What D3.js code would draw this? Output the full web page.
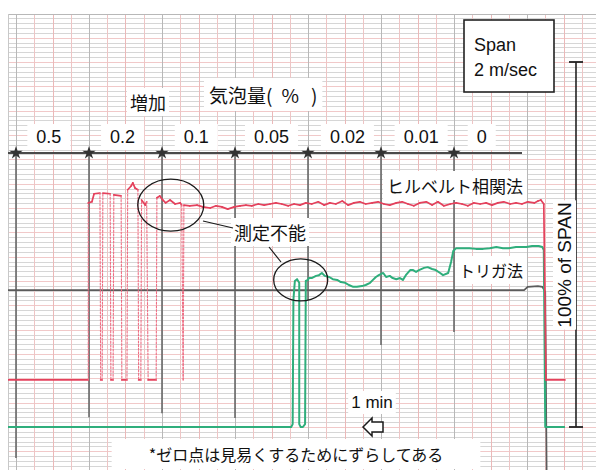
<!DOCTYPE html>
<html>
<head>
<meta charset="utf-8">
<script src="https://cdn.jsdelivr.net/npm/d3@7"></script>
<style>
  html, body { margin: 0; padding: 0; background: #fff; }
  svg { display: block; }
  .jp  { font-family: "Noto Sans CJK JP", "Noto Sans", sans-serif; fill: #111; }
  .lat { font-family: "Liberation Sans", Arial, sans-serif; fill: #111; }
</style>
</head>
<body>
<svg id="chart" width="596" height="470"></svg>
<script>
// Bubble content (%) set during each one-minute step of the run
const bubbleLevels = ["0.5", "0.2", "0.1", "0.05", "0.02", "0.01", "0"];
const levelLabelTimes = [0.45, 1.46, 2.47, 3.5, 4.54, 5.55, 6.38]; // where each level is written
const stepTimes = [0, 1, 2, 3, 4, 5, 6];              // minutes at which content was changed
const stepMarkerEnds = [-8.5, 2.7, 3.8, 2.5, 34.8, 22.5, 26.0]; // lower end of each step marker (% span)

// Offset of the Hilbert channel zero (% of span), shifted up for readability
const hilbertZero = 12.9;

// Hilbert correlation method: [time (min), velocity (% of span)]
const hilbertTrace = [
  [-0.11, 0], [0.99, 0], [0.99, 48.5], [1.04, 48.8], [1.07, 51.0], [1.15, 51.2], [1.16, 0], [1.18, 0],
  [1.19, 51.2], [1.29, 51.0], [1.30, 0], [1.33, 0], [1.34, 50.7], [1.44, 50.4], [1.45, 0], [1.52, 0],
  [1.53, 52.1], [1.58, 53.2], [1.60, 54.0], [1.63, 52.6], [1.67, 52.1], [1.68, 0], [1.71, 0],
  [1.72, 49.3], [1.77, 47.9], [1.79, 48.8], [1.81, 0], [1.92, 0], [1.93, 49.9], [1.97, 50.4],
  [2.01, 49.3], [2.05, 48.5], [2.11, 49.3], [2.18, 48.2], [2.25, 48.5], [2.27, 47.9], [2.29, 0],
  [2.30, 47.9], [2.38, 47.7], [2.48, 47.9], [2.56, 47.4], [2.66, 47.1], [2.74, 47.7], [2.82, 47.4],
  [2.90, 46.8], [2.99, 47.4], [3.07, 47.7], [3.15, 47.9], [3.23, 47.7], [3.32, 48.2], [3.40, 47.9],
  [3.48, 48.2], [3.56, 48.5], [3.64, 48.2], [3.73, 47.7], [3.81, 48.2], [3.89, 47.9], [3.97, 48.5],
  [4.05, 48.2], [4.14, 48.8], [4.22, 47.9], [4.30, 48.5], [4.38, 48.2], [4.47, 49.0], [4.55, 47.9],
  [4.63, 48.5], [4.71, 48.8], [4.79, 48.2], [4.88, 48.5], [4.96, 48.8], [5.04, 48.2], [5.12, 47.9],
  [5.21, 48.5], [5.29, 48.8], [5.37, 48.2], [5.45, 47.7], [5.53, 48.5], [5.62, 48.8], [5.70, 47.9],
  [5.78, 48.8], [5.86, 47.7], [5.95, 48.2], [6.03, 48.5], [6.11, 48.2], [6.19, 47.7], [6.27, 48.5],
  [6.36, 48.2], [6.44, 48.5], [6.52, 47.9], [6.60, 48.5], [6.68, 48.8], [6.77, 48.2], [6.85, 48.5],
  [6.93, 48.2], [7.01, 48.8], [7.10, 48.5], [7.15, 49.0], [7.19, 49.3], [7.23, 48.2], [7.26, 0], [7.52, 0]
];
// time window in which the pen swings so fast that it leaves a dotted trail
const rapidSwingWindow = [0.98, 2.31];

// Trigger (cross-correlation) method: [time (min), velocity (% of span)]
const triggerTrace = [
  [-0.11, 0], [3.77, 0], [3.79, 0.8], [3.80, 34.8], [3.82, 40.0], [3.85, 40.5], [3.88, 39.5], [3.88, 0.8],
  [3.90, 0], [3.93, 0], [3.96, 0.8], [3.97, 40.0], [4.00, 40.3], [4.01, 40.8], [4.05, 40.8], [4.11, 41.4],
  [4.15, 41.6], [4.19, 42.2], [4.23, 41.4], [4.29, 41.1], [4.34, 40.5], [4.40, 40.3], [4.45, 39.7],
  [4.51, 39.5], [4.56, 38.9], [4.62, 38.4], [4.67, 38.4], [4.74, 38.6], [4.79, 38.9], [4.85, 39.5],
  [4.89, 40.3], [4.93, 41.1], [4.97, 41.6], [5.03, 42.2], [5.07, 41.1], [5.12, 41.4], [5.16, 40.8],
  [5.21, 40.5], [5.26, 40.8], [5.30, 40.3], [5.34, 41.6], [5.40, 43.0], [5.44, 43.0], [5.48, 42.5],
  [5.52, 43.0], [5.59, 43.6], [5.64, 43.8], [5.70, 43.3], [5.75, 43.0], [5.81, 42.2], [5.85, 41.6],
  [5.92, 42.2], [5.96, 45.2], [5.99, 48.2], [6.03, 49.0], [6.11, 49.0], [6.21, 49.0], [6.30, 48.8],
  [6.40, 48.8], [6.49, 49.0], [6.58, 49.3], [6.67, 49.0], [6.75, 49.0], [6.85, 49.3], [6.93, 49.3],
  [6.99, 49.3], [7.07, 49.6], [7.16, 49.6], [7.21, 49.3], [7.23, 48.5], [7.25, 0], [7.52, 0]
];

// Third pen (reference channel): [time (min), % of span]
const referenceTrace = [
  [-0.11, 37.5], [6.96, 37.5], [7.01, 38.4], [7.15, 38.6], [7.21, 38.4], [7.25, 37.0], [7.27, -14.5]
];

const svg = d3.select("#chart");
const W = 596, H = 470;
const paper = { left: 8, top: 14, right: W, bottom: H };

const x = d3.scaleLinear().domain([0, 7]).range([16, 527]);
const y = d3.scaleLinear().domain([0, 100]).range([427, 62]);

svg.append("defs").append("clipPath").attr("id", "paperClip")
  .append("rect").attr("x", paper.left).attr("y", paper.top)
  .attr("width", paper.right - paper.left).attr("height", paper.bottom - paper.top);

// ---- chart paper ----
const grid = svg.append("g").attr("clip-path", "url(#paperClip)");
const hStep = 100 / 75;
const hLines = d3.range(Math.floor(y.invert(H) / hStep), Math.ceil(y.invert(paper.top) / hStep) + 1);
grid.selectAll("line.h").data(hLines).join("line")
  .attr("x1", paper.left).attr("x2", paper.right)
  .attr("y1", k => Math.round(y(k * hStep)) + 0.5).attr("y2", k => Math.round(y(k * hStep)) + 0.5)
  .attr("stroke", k => (k % 5 === 0 ? "#f1c9c9" : "#d6d6d6"))
  .attr("stroke-width", 1);

const vLines = d3.range(-1, Math.ceil(x.invert(W) * 4) + 1);
grid.selectAll("line.v").data(vLines).join("line")
  .attr("x1", k => Math.round(x(k / 4)) + 0.5).attr("x2", k => Math.round(x(k / 4)) + 0.5)
  .attr("y1", paper.top).attr("y2", paper.bottom)
  .attr("stroke", k => (k % 4 === 0 ? "#b8b8b8" : (k % 2 === 0 ? "#ebb9b9" : "#eec5c5")))
  .attr("stroke-width", 1);

grid.append("line").attr("x1", paper.left).attr("x2", paper.right)
  .attr("y1", paper.top + 0.5).attr("y2", paper.top + 0.5).attr("stroke", "#b8b8b8");
grid.append("line").attr("x1", paper.left + 0.5).attr("x2", paper.left + 0.5)
  .attr("y1", paper.top).attr("y2", paper.bottom).attr("stroke", "#c8c8c8");

// step markers drawn below the bubble-content axis
const axisLevel = 75.1;
grid.selectAll("line.step").data(stepTimes).join("line")
  .attr("x1", t => x(t)).attr("x2", t => x(t))
  .attr("y1", y(axisLevel)).attr("y2", (t, i) => y(stepMarkerEnds[i]))
  .attr("stroke", "#6a6a6a").attr("stroke-width", 1.6);

// ---- pen traces ----
const traces = svg.append("g").attr("clip-path", "url(#paperClip)");
const line = d3.line().x(d => x(d[0])).y(d => y(d[1]));

traces.append("path").datum(referenceTrace)
  .attr("d", line).attr("fill", "none").attr("stroke", "#5c5c5c").attr("stroke-width", 1.7);

traces.append("path").datum(triggerTrace)
  .attr("d", line).attr("fill", "none").attr("stroke", "#2fae7c").attr("stroke-width", 2)
  .attr("stroke-linejoin", "round");

// Hilbert pen: rapid swings appear as dotted strokes, everything else as a solid line
const hil = hilbertTrace.map(d => [d[0], d[1] + hilbertZero]);
const segs = d3.pairs(hil);
const isSwing = ([a, b]) => Math.abs(b[1] - a[1]) > 20 &&
  a[0] >= rapidSwingWindow[0] && b[0] <= rapidSwingWindow[1];
traces.selectAll("path.hs").data(segs).join("path")
  .attr("d", s => line(s))
  .attr("fill", "none")
  .attr("stroke", s => (isSwing(s) ? "#ee6f84" : "#e4415c"))
  .attr("stroke-width", s => (isSwing(s) ? 1.1 : 1.7))
  .attr("stroke-dasharray", s => (isSwing(s) ? "2,1.6" : null))
  .attr("stroke-linecap", "round");

// ---- bubble content axis ----
const ann = svg.append("g");
ann.append("line")
  .attr("x1", paper.left).attr("x2", x(6) + 68)
  .attr("y1", y(axisLevel)).attr("y2", y(axisLevel))
  .attr("stroke", "#4a4a4a").attr("stroke-width", 2);
ann.selectAll("path.star").data(stepTimes).join("path")
  .attr("transform", t => `translate(${x(t)},${y(axisLevel)})`)
  .attr("d", d3.symbol(d3.symbolStar, 55))
  .attr("fill", "#333");

function boxFor(grp, t, pad) {
  const b = t.node().getBBox();
  grp.insert("rect", ":first-child").attr("fill", "#fff")
    .attr("x", b.x - pad[0]).attr("y", b.y - pad[1])
    .attr("width", b.width + 2 * pad[0]).attr("height", b.height + 2 * pad[1]);
}

function label(g, text, px, py, cls, size, anchor, pad) {
  const grp = g.append("g");
  const t = grp.append("text").attr("class", cls)
    .attr("x", px).attr("y", py)
    .attr("font-size", size).attr("text-anchor", anchor || "start")
    .text(text);
  boxFor(grp, t, pad || [4, 2]);
  return grp;
}

bubbleLevels.forEach((lv, i) => {
  label(ann, lv, x(levelLabelTimes[i]), 143, "lat", 18, "middle", [9, 3]);
});

label(ann, "増加", 148, 110, "jp", 18, "middle", [3, 1]);

// 気泡量( % ) with the loose spacing of the hand-set heading
{
  const grp = ann.append("g");
  const t = grp.append("text").attr("class", "jp").attr("x", 209).attr("y", 103).attr("font-size", 19);
  t.append("tspan").text("気泡量(");
  t.append("tspan").attr("dx", 9).text("%");
  t.append("tspan").attr("dx", 12).text(")");
  boxFor(grp, t, [5, 3]);
}

// span box
const spanBox = ann.append("g");
spanBox.append("rect").attr("x", 464).attr("y", 20).attr("width", 90).attr("height", 72)
  .attr("fill", "#fff").attr("stroke", "#222").attr("stroke-width", 1.6);
spanBox.append("text").attr("class", "lat").attr("x", 474).attr("y", 51)
  .attr("font-size", 18).text("Span");
spanBox.append("text").attr("class", "lat").attr("x", 474).attr("y", 76)
  .attr("font-size", 18).text("2 m/sec");

// 100 % span bracket
const bx = 576;
ann.append("line").attr("x1", bx).attr("x2", bx).attr("y1", y(100)).attr("y2", y(0))
  .attr("stroke", "#222").attr("stroke-width", 1.6);
[100, 0].forEach(v => ann.append("line").attr("x1", bx - 7).attr("x2", bx + 7)
  .attr("y1", y(v)).attr("y2", y(v)).attr("stroke", "#222").attr("stroke-width", 1.8));

const rot = ann.append("g").attr("transform", "translate(571,265) rotate(-90)");
label(rot, "100% of SPAN", 0, 0, "lat", 19, "middle", [2, 1]);

// method labels
label(ann, "ヒルベルト相関法", 455, 193, "jp", 17, "middle", [4, 2]);
label(ann, "トリガ法", 491, 277, "jp", 16, "middle", [4, 2]);
label(ann, "測定不能", 270, 240, "jp", 18, "middle", [3, 1]);

// regions where measurement failed
ann.append("ellipse").attr("cx", x(2.12)).attr("cy", y(60.8)).attr("rx", 33).attr("ry", 26)
  .attr("fill", "none").attr("stroke", "#1a1a1a").attr("stroke-width", 1.3);
ann.append("ellipse").attr("cx", x(3.90)).attr("cy", y(40.3)).attr("rx", 27).attr("ry", 21)
  .attr("fill", "none").attr("stroke", "#1a1a1a").attr("stroke-width", 1.3);
ann.append("line").attr("x1", 203).attr("y1", 221).attr("x2", 233).attr("y2", 228)
  .attr("stroke", "#1a1a1a").attr("stroke-width", 1.2);
ann.append("line").attr("x1", 269).attr("y1", 247).attr("x2", 281).attr("y2", 262)
  .attr("stroke", "#1a1a1a").attr("stroke-width", 1.2);

// chart travel: 1 min
label(ann, "1 min", 372, 408, "lat", 17, "middle", [3, 2]);
ann.append("path")
  .attr("d", "M363,427 L372,418 L372,422 L383,422 L383,432 L372,432 L372,436 Z")
  .attr("fill", "#fff").attr("stroke", "#1a1a1a").attr("stroke-width", 1.5)
  .attr("stroke-linejoin", "miter");

// footnote
label(ann, "*ゼロ点は見易くするためにずらしてある", 296, 461, "jp", 16, "middle", [37, 3]);
</script>
</body>
</html>
